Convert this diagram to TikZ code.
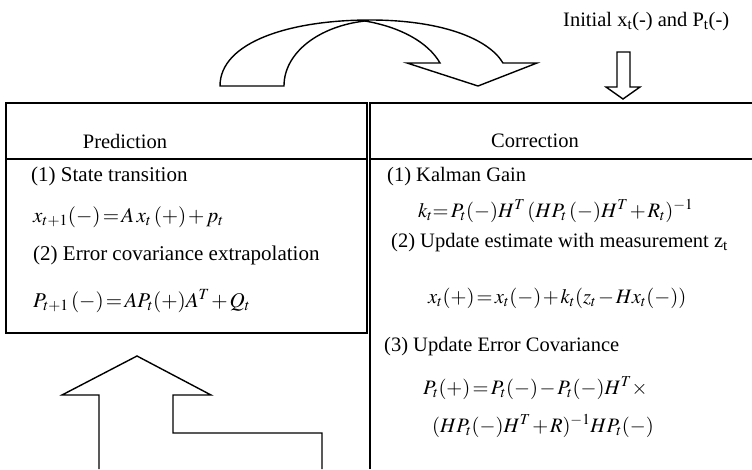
\documentclass[tikz,border=0pt]{standalone}
\usepackage{mathptmx}
\usepackage[no-math]{fontspec}
\setmainfont{Liberation Serif}
\thickmuskip=2mu\relax
\medmuskip=1.5mu\relax
\begin{document}
\begin{tikzpicture}[x=1pt,y=-1pt,
  lbl/.style={inner sep=0pt,anchor=base west,font=\fontsize{20.5}{24}\selectfont},
  lblL/.style={inner sep=0pt,anchor=base west,font=\fontsize{21}{24}\selectfont},
  hdr/.style={inner sep=0pt,anchor=base,font=\fontsize{20.5}{24}\selectfont},
  frame/.style={line width=1.5pt,draw=black},
  arrowshape/.style={line width=1.4pt,draw=black,line join=miter}]
\useasboundingbox (0,0) rectangle (752,469);
% boxes
\draw[frame] (6,103) rectangle (367,333);
\draw[frame] (6,159) -- (367,159);
\draw[frame] (370,469) -- (370,103) -- (752,103);
\draw[frame] (370,159) -- (752,159);
% headers
\node[hdr] (pred) at (125,148) {Prediction};
\node[hdr] (corr) at (535,147) {Correction};
% prediction content
\node[lblL] (p1) at (31,181) {(1) State transition};
\node[lblL] (p1f) at (33,222) {$x_{t+1}(-) = A\;x_t\,(+) + p_t$};
\node[lblL] (p2) at (33,260) {(2) Error covariance extrapolation};
\node[lblL] (p2f) at (33,307) {$P_{t+1}\,(-) = AP_t(+)A^T + Q_t$};
% correction content
\node[lbl] (c1) at (387,181) {(1) Kalman Gain};
\node[lbl] (c1f) at (418,217) {$k_t{=}\,P_t(-)H^T\,(HP_t\,(-)H^T + R_t)^{-1}$};
\node[lbl] (c2) at (391,247) {(2) Update estimate with measurement z\textsubscript{t}};
\node[lbl] (c2f) at (428,303) {$x_t(+) = x_t(-) + k_t(z_t - Hx_t(-))$};
\node[lbl] (c3) at (384,351) {(3) Update Error Covariance};
\node[lbl] (c3f) at (423,394) {$P_t(+) = P_t(-) - P_t(-)H^T{\times}$};
\node[lbl] (c3g) at (432,432) {$(HP_t(-)H^T + R)^{-1}HP_t(-)$};
% initial label and arrow
\node[lbl] (init) at (563,26) {Initial x\textsubscript{t}(-) and P\textsubscript{t}(-)};
\draw[arrowshape] (617,87) -- (617,52) -- (630,52) -- (630,87) -- (640,87) -- (623,99) -- (606,87) -- cycle;
% curved arrow at top
\draw[arrowshape] (220,86) .. controls (220,42) and (290,20) .. (370,20)
  .. controls (440,20) and (488,38) .. (503,63) -- (537,63) -- (478,86) -- (407,63) -- (440,63)
  .. controls (428,42) and (400,27) .. (365,21)
  .. controls (320,26) and (284,52) .. (284,86) -- cycle;
% bent up arrow at bottom
\draw[arrowshape] (99,469) -- (99,395) -- (62,395) -- (137,356) -- (211,395) -- (173,395) -- (173,433) -- (322,433) -- (322,469);
\end{tikzpicture}
\end{document}
